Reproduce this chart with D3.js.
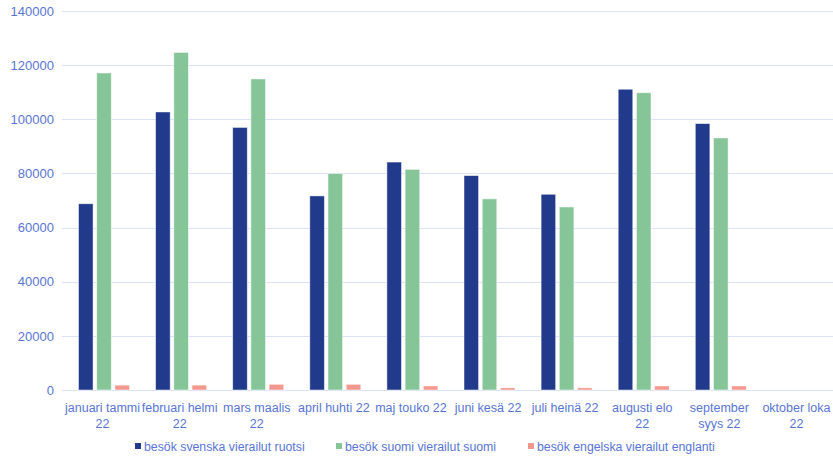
<!DOCTYPE html>
<html><head><meta charset="utf-8">
<script src="https://cdn.jsdelivr.net/npm/d3@7"></script>
<style>body{margin:0;background:#fff}svg{display:block}</style>
</head><body><svg id="c" width="833" height="458"></svg>
<script>
const categories = [["januari tammi","22"],["februari helmi","22"],["mars maalis","22"],["april huhti 22"],["maj touko 22"],["juni kesä 22"],["juli heinä 22"],["augusti elo","22"],["september","syys 22"],["oktober loka","22"]];
const seriesNames = ["besök svenska vierailut ruotsi","besök suomi vierailut suomi","besök engelska vierailut englanti"];
const svenska = [68800,102700,97000,71700,84200,79200,72300,111100,98400,0];
const suomi = [117100,124700,114900,80000,81500,70600,67600,109800,93100,0];
const engelska = [1800,1800,2100,2100,1500,800,800,1500,1500,0];
const yTicks = [0,20000,40000,60000,80000,100000,120000,140000];
const colors = ["#213a8c","#86c598","#f4978f"];

(function(){
const svg = d3.select("#c");
const textColor = "#5875d6";
const font = "Liberation Sans, Arial, sans-serif";
const mLeft = 62, mRight = 833, mTop = 11, mBottom = 390;
const x = d3.scaleBand().domain(d3.range(categories.length)).range([mLeft, mRight]).paddingInner(0).paddingOuter(0);
const y = d3.scaleLinear().domain([0,140000]).range([mBottom, mTop]);
const data = [svenska, suomi, engelska];

svg.append("g").selectAll("line").data(yTicks).join("line")
  .attr("x1", mLeft).attr("x2", mRight)
  .attr("y1", d=>Math.round(y(d))+0.5).attr("y2", d=>Math.round(y(d))+0.5)
  .attr("stroke", "#dce2f6").attr("stroke-width", 1);

const yAxis = d3.axisLeft(y).tickValues(yTicks).tickSize(0).tickPadding(8).tickFormat(d=>String(d));
const ya = svg.append("g").attr("transform", `translate(${mLeft},0)`).call(yAxis);
ya.select(".domain").remove();
ya.selectAll("text").attr("fill", textColor).style("font-family", font).style("font-size","13px");

const inner = d3.scaleBand().domain([0,1,2]).range([0, 51]).paddingInner(0.2);
const gOff = 16.5;
data.forEach((s, si) => {
  svg.append("g").selectAll("rect").data(s).join("rect")
    .attr("x", (d,i)=>x(i)+gOff+inner(si))
    .attr("width", inner.bandwidth())
    .attr("y", d=>y(d))
    .attr("height", d=>Math.max(0, y(0)-y(d)))
    .attr("fill", colors[si])
    .attr("stroke", "#fff").attr("stroke-opacity", 0.6).attr("stroke-width", 0.8);
});

const xl = svg.append("g");
categories.forEach((lines, i) => {
  const cx = x(i)+x.bandwidth()/2+2;
  const t = xl.append("text").attr("x", cx).attr("y", 412)
    .attr("text-anchor","middle").attr("fill", textColor)
    .style("font-family", font).style("font-size","12.5px");
  lines.forEach((ln, k) => t.append("tspan").attr("x", cx).attr("dy", k===0?0:15.5).text(ln));
});

const legX = [135, 336, 528];
seriesNames.forEach((n, i) => {
  svg.append("rect").attr("x", legX[i]).attr("y", 443).attr("width", 6).attr("height", 6).attr("fill", colors[i]);
  svg.append("text").attr("x", legX[i]+9).attr("y", 450.5).text(n).attr("fill", textColor)
    .style("font-family", font).style("font-size","12.3px");
});
})();
</script></body></html>
